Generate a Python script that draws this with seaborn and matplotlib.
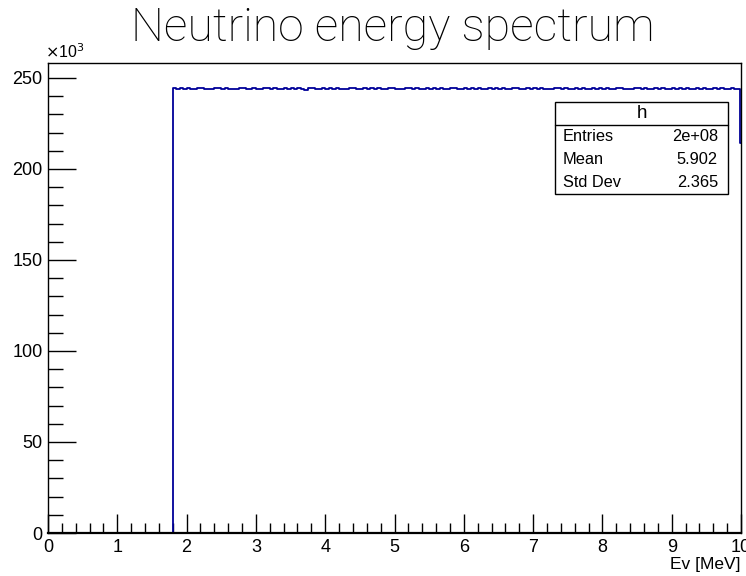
import numpy as np
import pandas as pd
import matplotlib
matplotlib.use("Agg")
import matplotlib.pyplot as plt
from matplotlib.patches import Rectangle
from matplotlib.lines import Line2D
from matplotlib.ticker import MultipleLocator
import seaborn as sns

# Bin contents in units of 10^3 entries: an empty bin below the 1.80 MeV
# threshold, 0.05 MeV bins up to 9.95 MeV, then the last two narrow bins.
empty_below_threshold = [0.0]
flat_region = [
    244.2, 243.9, 244.3, 244.0, 244.4, 244.1, 243.8, 244.2, 244.5, 244.0,
    244.1, 243.7, 244.3, 244.2, 243.9, 244.4, 244.0, 244.1, 243.8, 244.3,
    244.6, 244.0, 243.9, 244.2, 244.1, 243.7, 244.3, 244.5, 244.0, 244.2,
    243.9, 244.1, 244.4, 243.8, 244.2, 244.0, 244.3, 244.1, 243.6, 244.2,
    244.4, 244.0, 243.9, 244.3, 244.1, 244.2, 243.8, 244.5, 244.0, 244.1,
    243.9, 244.3, 244.2, 243.7, 244.1, 244.4, 244.0, 244.2, 243.9, 244.3,
    244.1, 243.8, 244.2, 244.6, 244.0, 244.1, 243.9, 244.3, 244.2, 243.8,
    244.4, 244.0, 244.1, 244.3, 243.7, 244.2, 244.0, 244.5, 244.1, 243.9,
    244.2, 244.3, 244.0, 243.8, 244.4, 244.1, 244.2, 243.9, 244.3, 244.0,
    244.1, 244.5, 243.8, 244.2, 244.0, 244.3, 244.1, 243.9, 244.4, 244.2,
    243.7, 244.1, 244.3, 244.0, 244.2, 243.9, 244.5, 244.1, 244.0, 243.8,
    244.3, 244.2, 244.0, 244.4, 243.9, 244.1, 244.2, 243.8, 244.3, 244.0,
    244.1, 244.4, 243.9, 244.2, 244.0, 244.3, 244.1, 243.7, 244.2, 244.5,
    244.0, 244.1, 243.9, 244.3, 244.2, 244.0, 244.4, 243.8, 244.1, 244.2,
    243.9, 244.3, 244.0, 244.1, 244.5, 243.8, 244.2, 244.0, 244.3, 244.1,
    244.0, 244.2, 243.9, 244.4, 244.1, 244.0, 244.3, 243.8, 244.2, 244.1,
    243.9, 244.2, 244.0,
]
tail_bins = [244.1, 214.0]
counts_k = empty_below_threshold + flat_region + tail_bins

# Bin edges in MeV
edges = [0.0] + [round(1.80 + 0.05 * i, 2) for i in range(len(flat_region) + 1)] + [9.99, 10.0]
centers = [0.5 * (a + b) for a, b in zip(edges[:-1], edges[1:])]

stats_name = "h"
stats_labels = ["Entries", "Mean", "Std Dev"]
stats_values = ["2e+08", "5.902", "2.365"]

title = "Neutrino energy spectrum"
x_label = "Ev [MeV]"

df = pd.DataFrame({"Ev": centers, "counts": counts_k})

sns.set_theme(style="white")
plt.rcParams["font.family"] = ["Liberation Sans", "DejaVu Sans"]
plt.rcParams["text.color"] = "black"
plt.rcParams["axes.labelcolor"] = "black"
plt.rcParams["xtick.color"] = "black"
plt.rcParams["ytick.color"] = "black"

fig = plt.figure(figsize=(7.46, 5.76), dpi=100)
W, H = 746, 576
ax_l, ax_r, ax_t, ax_b = 48, 741, 63, 533
ax = fig.add_axes([ax_l / W, 1 - ax_b / H, (ax_r - ax_l) / W, (ax_b - ax_t) / H])

sns.histplot(data=df, x="Ev", weights="counts", bins=edges, element="step",
             fill=False, color="#000099", linewidth=1.3, ax=ax)

ax.set_xlim(0, 10)
ax.set_ylim(0, 258.2)
ax.set_ylabel("")
ax.set_xlabel(x_label, loc="right", fontsize=12.5, labelpad=1)

for side in ["left", "right", "top", "bottom"]:
    ax.spines[side].set_visible(True)
    ax.spines[side].set_color("black")
    ax.spines[side].set_linewidth(1.0)
    ax.spines[side].set_zorder(5)
ax.spines["bottom"].set_linewidth(1.6)

ax.xaxis.set_major_locator(MultipleLocator(1))
ax.xaxis.set_minor_locator(MultipleLocator(0.2))
ax.yaxis.set_major_locator(MultipleLocator(50))
ax.yaxis.set_minor_locator(MultipleLocator(10))
ax.tick_params(axis="x", which="both", direction="in", bottom=True, top=False,
               labelsize=13, pad=4, color="black", width=1.0)
ax.tick_params(axis="x", which="major", length=14)
ax.tick_params(axis="x", which="minor", length=7.5)
ax.tick_params(axis="y", which="both", direction="in", left=True, right=False,
               labelsize=13, pad=4, color="black", width=1.0)
ax.tick_params(axis="y", which="major", length=20)
ax.tick_params(axis="y", which="minor", length=10.5)
ax.grid(False)

ax.text(-0.004, 1.004, r"$\times$10$^3$", transform=ax.transAxes, ha="left",
        va="bottom", fontsize=11.5)

# Statistics box
aw, ah = ax_r - ax_l, ax_b - ax_t
def axx(px):
    return (px - ax_l) / aw
def axy(py):
    return (ax_b - py) / ah

bx0, bx1, by_top, by_hdr, by_bot = 555, 728, 102, 125, 194
ax.add_patch(Rectangle((axx(bx0), axy(by_bot)), axx(bx1) - axx(bx0),
                       axy(by_top) - axy(by_bot), transform=ax.transAxes,
                       facecolor="white", edgecolor="black", linewidth=1.0,
                       zorder=6))
ax.add_line(Line2D([axx(bx0), axx(bx1)], [axy(by_hdr), axy(by_hdr)],
                   transform=ax.transAxes, color="black", linewidth=1.0, zorder=7))
ax.text(axx((bx0 + bx1) / 2), axy((by_top + by_hdr) / 2), stats_name,
        transform=ax.transAxes, ha="center", va="center", fontsize=13.5, zorder=8)
row_h = (by_bot - by_hdr) / len(stats_labels)
for i, (lab, val) in enumerate(zip(stats_labels, stats_values)):
    yc = axy(by_hdr + row_h * (i + 0.5))
    ax.text(axx(563), yc, lab, transform=ax.transAxes, ha="left", va="center",
            fontsize=11.8, zorder=8)
    ax.text(axx(718), yc, val, transform=ax.transAxes, ha="right", va="center",
            fontsize=11.8, zorder=8)

fig.text(393 / W, 1 - 28 / H, title, ha="center", va="center", fontsize=33.5,
         family=["Roboto", "DejaVu Sans"], fontweight="light", color="black")

fig.savefig("out.png", dpi=100, facecolor="white")
